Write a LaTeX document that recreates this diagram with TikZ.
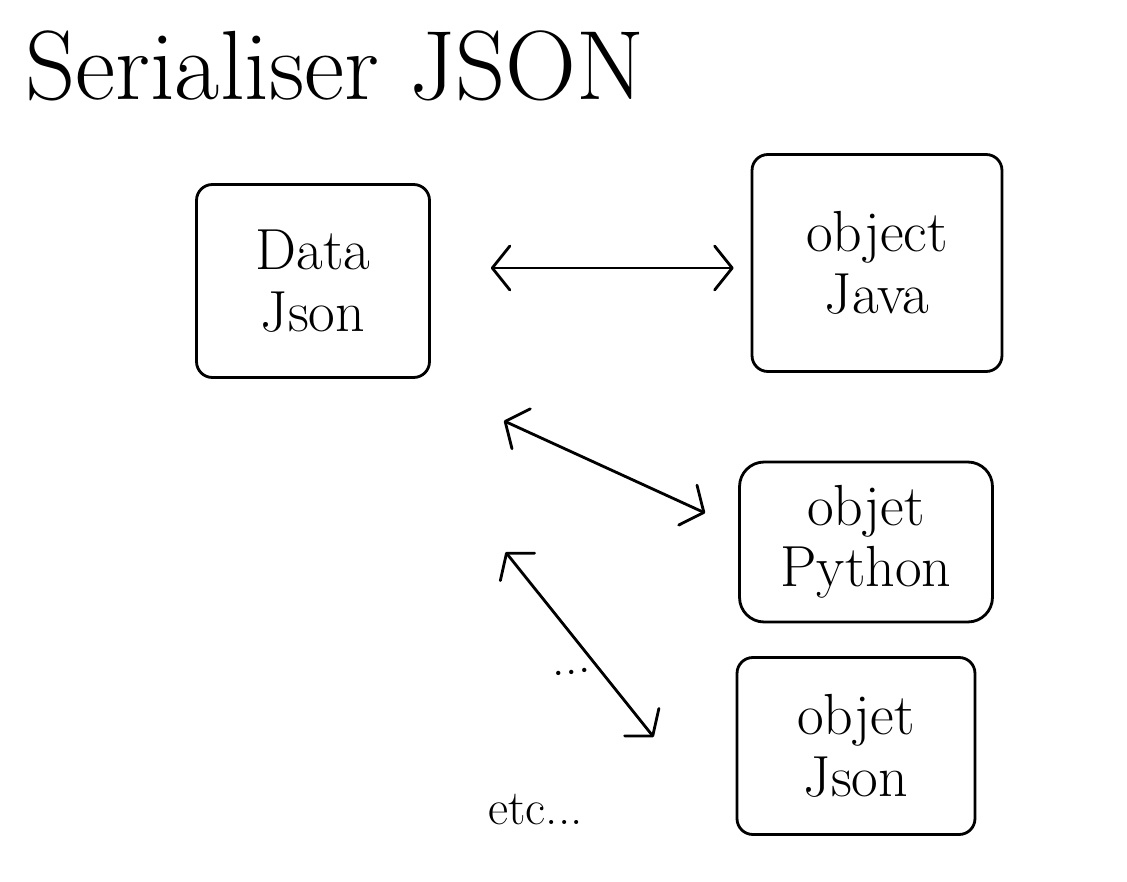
\documentclass[tikz,border=0pt]{standalone}
\usetikzlibrary{arrows.meta,calc}
\begin{document}
\begin{tikzpicture}[x=0.02cm,y=-0.02cm,
  ink/.style={line width=1.6pt,line cap=round,line join=round},
  box/.style={ink,draw,rounded corners=9pt,align=center,font=\fontsize{33}{35}\selectfont},
  barb/.tip={Straight Barb[length=10pt,width=25pt,round]},
  hand/.style={ink,barb-barb},
  scribble/.style={inner sep=0pt}]
  \useasboundingbox (0,0) rectangle (1127,882);

  % title
  \node[scribble,anchor=base west,font=\fontsize{56}{56}\selectfont] (title) at (25,100) {Serialiser JSON};

  % the four boxes
  \node[box,minimum width=4.66cm,minimum height=3.86cm] (data)   at (313,281) {Data\\Json};
  \node[box,minimum width=5.00cm,minimum height=4.34cm] (java)   at (877,263) {object\\Java};
  \node[box,minimum width=5.06cm,minimum height=3.20cm,rounded corners=14pt] (python) at (866,542) {objet\\Python};
  \node[box,minimum width=4.76cm,minimum height=3.54cm] (json)   at (856,746) {objet\\Json};

  % two-way conversions
  \draw[hand] ($(data.east)+(60,-13)$) -- ($(java.west)+(-17,5)$);
  \draw[hand] ($(data.south east)+(73,42)$) -- ($(python.west)+(-33,-29)$);
  \draw[hand] ($(json.north west)+(-230,-104)$) -- ($(json.west)+(-82,-9)$);

  % side notes
  \node[scribble,font=\fontsize{30}{30}\selectfont,rotate=8] (dots) at (572,672) {...};
  \node[scribble,anchor=base west,font=\fontsize{28}{28}\selectfont] (etc) at (488,824) {etc...};
\end{tikzpicture}
\end{document}
